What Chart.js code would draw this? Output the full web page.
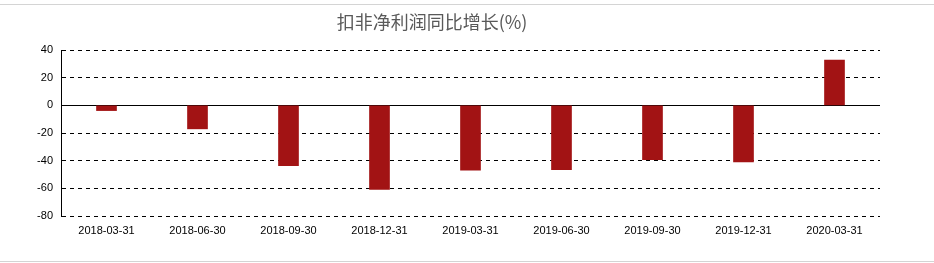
<!DOCTYPE html>
<html>
<head>
<meta charset="utf-8">
<script src="https://cdn.jsdelivr.net/npm/chart.js@4/dist/chart.umd.min.js"></script>
<style>
  body { margin: 0; background: #fff; }
  #wrap { position: relative; width: 934px; height: 263px; }
  #myChart { display: block; }
  .rule { position: absolute; left: 0; width: 934px; height: 1px; background: #d4d4d4; }
</style>
</head>
<body>
<div id="wrap">
  <canvas id="myChart" width="934" height="263"></canvas>
  <div class="rule" style="top:4px"></div>
  <div class="rule" style="top:261px"></div>
</div>
<script>
const titleText = '扣非净利润同比增长(%)';

// report dates
const categories = [
  '2018-03-31', '2018-06-30', '2018-09-30', '2018-12-31', '2019-03-31',
  '2019-06-30', '2019-09-30', '2019-12-31', '2020-03-31'
];

// growth rate, %
const growth = [-3.8, -17.0, -43.6, -60.7, -46.9, -46.5, -39.2, -40.9, 32.7];

const yMin = -80;
const yMax = 40;
const yStep = 20;

const ctx = document.getElementById('myChart').getContext('2d');

// title sits left of the plot centre, so place it by hand
const titlePlugin = {
  id: 'sideTitle',
  afterDraw(chart) {
    const c = chart.ctx;
    c.save();
    c.font = '18px "Noto Sans CJK SC"';
    c.fillStyle = '#595959';
    c.textAlign = 'center';
    c.textBaseline = 'middle';
    c.fillText(titleText, 432, 22);
    c.restore();
  }
};

new Chart(ctx, {
  type: 'bar',
  data: {
    labels: categories,
    datasets: [
      {
        data: growth,
        backgroundColor: '#a21314',
        borderWidth: 0,
        barThickness: 20,
      },
    ],
  },
  options: {
    responsive: false,
    animation: false,
    layout: {
      padding: { top: 50, right: 54, bottom: 0, left: 0 },
    },
    plugins: {
      legend: { display: false },
      tooltip: { enabled: false },
    },
    scales: {
      x: {
        grid: { display: false, drawTicks: false },
        border: { display: false },
        ticks: {
          color: '#000',
          padding: 8,
          maxRotation: 0,
          autoSkip: false,
          font: { family: '"Liberation Sans"', size: 11 },
        },
        afterFit: scale => { scale.height = 47; },
      },
      y: {
        min: yMin,
        max: yMax,
        grid: {
          color: '#000',
          lineWidth: 1,
          drawTicks: false,
        },
        border: {
          display: true,
          color: '#000',
          width: 1,
          // zero line solid, the rest dashed
          dash: c => (c.tick && c.tick.value === 0 ? [] : [4, 4]),
        },
        ticks: {
          stepSize: yStep,
          color: '#000',
          padding: 8,
          font: { family: '"Liberation Sans"', size: 11 },
        },
        afterFit: scale => { scale.width = 61; },
      },
    },
  },
  plugins: [titlePlugin],
});
</script>
</body>
</html>
